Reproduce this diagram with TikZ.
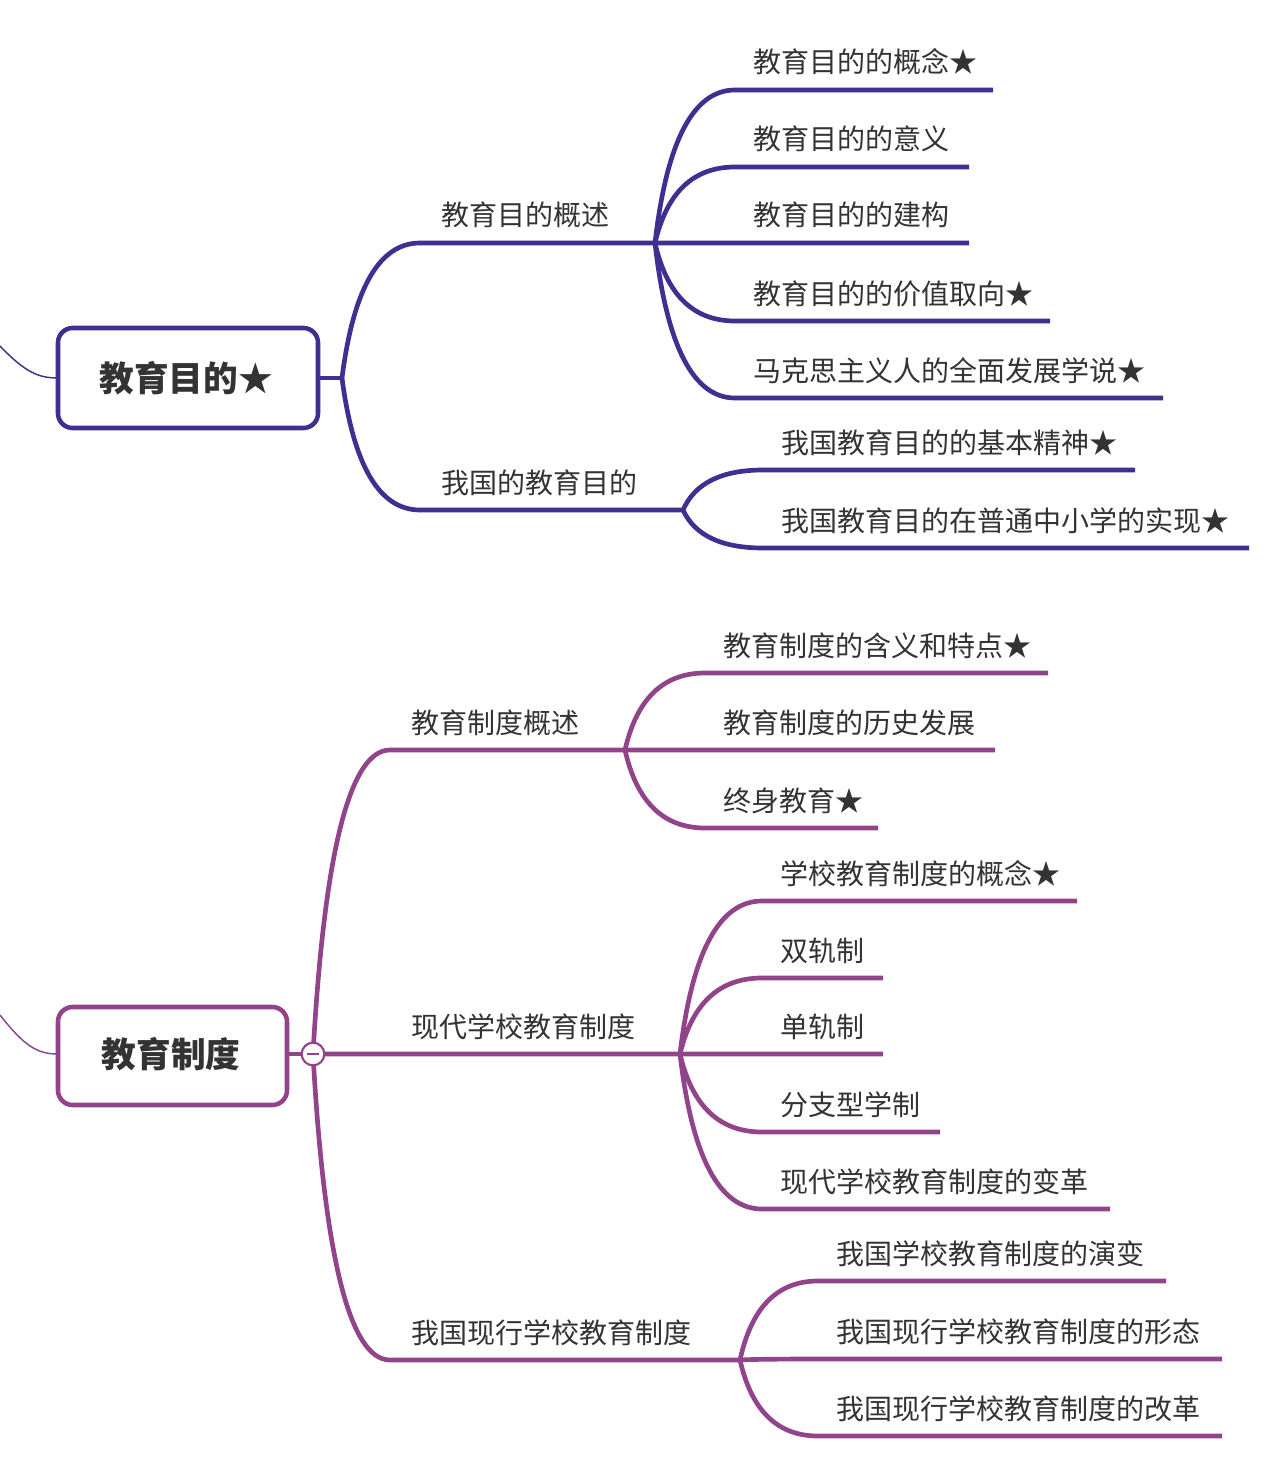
\documentclass[tikz,border=0pt]{standalone}
\usepackage{fontspec}
\usetikzlibrary{calc}
\newfontfamily\cjk{Noto Sans CJK SC}
\definecolor{topc}{RGB}{62,48,145}
\definecolor{botc}{RGB}{145,68,137}
\definecolor{txt}{RGB}{51,51,51}
% #1 name, #2 junction, #3 x start, #4 y, #5 x end, #6 text x, #7 text
\newcommand\mmitem[7]{%
  \coordinate (#1s) at (#3,#4);
  \coordinate (#1e) at (#5,#4);
  \coordinate (#1c) at ($(#2|-#1s)!0.22!(#1s)$);
  \draw[edge] (#2) .. controls ($(#2)!0.6667!(#1c)$) and ($(#1s)!0.6667!(#1c)$) .. (#1s) -- (#1e);
  \node[itemtext] (#1) at (#6,{#4-17}) {#7};
}
\begin{document}
\begin{tikzpicture}[x=0.75pt,y=-0.75pt,
  itemtext/.style={font=\cjk\fontsize{21}{25}\selectfont, text=txt, anchor=base west, inner sep=0pt},
  roottext/.style={font=\cjk\bfseries\fontsize{26}{30}\selectfont, text=txt, anchor=base, inner sep=0pt},
  rootbox/.style={line width=3.4pt, rounded corners=11pt, fill=white},
  inline/.style={line width=1.1pt}]
\useasboundingbox (0,0) rectangle (1284,1473);
\fill[white] (0,0) rectangle (1284,1473);

% ===== Top tree =====
\begin{scope}[edge/.style={line width=3.5pt, draw=topc}]
  \coordinate (in1) at (0,346);
  \coordinate (r1w) at (58,378);
  \draw[inline, topc] (in1) .. controls (25,372) and (38,378) .. (r1w);
  \draw[rootbox, draw=topc] (58,328) rectangle (318,428);
  \node[roottext] (root1) at (186,391) {教育目的★};
  \coordinate (r1e) at (318,378);
  \coordinate (j1) at (342,378);
  \draw[edge] (r1e) -- (j1);
  \mmitem{A}{j1}{420}{243}{655}{441}{教育目的概述}
  \mmitem{B}{j1}{420}{510}{685}{441}{我国的教育目的}
  \mmitem{Aa}{Ae}{735}{90}{993}{753}{教育目的的概念★}
  \mmitem{Ab}{Ae}{735}{167}{969}{753}{教育目的的意义}
  \mmitem{Ac}{Ae}{735}{243}{969}{753}{教育目的的建构}
  \mmitem{Ad}{Ae}{735}{321}{1050}{753}{教育目的的价值取向★}
  \mmitem{Af}{Ae}{735}{398}{1163}{753}{马克思主义人的全面发展学说★}
  \coordinate (Bj) at (683,510);
  \mmitem{Ba}{Bj}{763}{470}{1135}{781}{我国教育目的的基本精神★}
  \mmitem{Bb}{Bj}{763}{548}{1249}{781}{我国教育目的在普通中小学的实现★}
\end{scope}

% ===== Bottom tree =====
\begin{scope}[edge/.style={line width=3.5pt, draw=botc}]
  \coordinate (in2) at (0,1015);
  \coordinate (r2w) at (58,1054);
  \draw[inline, botc] (in2) .. controls (25,1047) and (38,1054) .. (r2w);
  \draw[rootbox, draw=botc] (58,1007) rectangle (287,1105);
  \node[roottext] (root2) at (171,1067) {教育制度};
  \coordinate (r2e) at (287,1054);
  \coordinate (j2) at (313,1054);
  \draw[edge] (r2e) -- (j2);
  \mmitem{C}{j2}{390}{750}{625}{411}{教育制度概述}
  \mmitem{D}{j2}{390}{1054}{680}{411}{现代学校教育制度}
  \mmitem{E}{j2}{390}{1360}{740}{411}{我国现行学校教育制度}
  \node[circle, draw=botc, line width=1.6pt, fill=white, minimum size=17pt, inner sep=0pt] (tog) at (j2) {};
  \draw[botc, line width=1.6pt] ($(tog.center)+(-6,0)$) -- ($(tog.center)+(6,0)$);
  \mmitem{Ca}{Ce}{705}{673}{1048}{723}{教育制度的含义和特点★}
  \mmitem{Cb}{Ce}{705}{750}{995}{723}{教育制度的历史发展}
  \mmitem{Cc}{Ce}{705}{828}{878}{723}{终身教育★}
  \mmitem{Da}{De}{762}{901}{1077}{780}{学校教育制度的概念★}
  \mmitem{Db}{De}{762}{978}{883}{780}{双轨制}
  \mmitem{Dc}{De}{762}{1054}{883}{780}{单轨制}
  \mmitem{Dd}{De}{762}{1132}{940}{780}{分支型学制}
  \mmitem{Df}{De}{762}{1209}{1110}{780}{现代学校教育制度的变革}
  \mmitem{Ea}{Ee}{818}{1281}{1166}{836}{我国学校教育制度的演变}
  \mmitem{Eb}{Ee}{818}{1359}{1222}{836}{我国现行学校教育制度的形态}
  \mmitem{Ec}{Ee}{818}{1436}{1222}{836}{我国现行学校教育制度的改革}
\end{scope}
\end{tikzpicture}
\end{document}
